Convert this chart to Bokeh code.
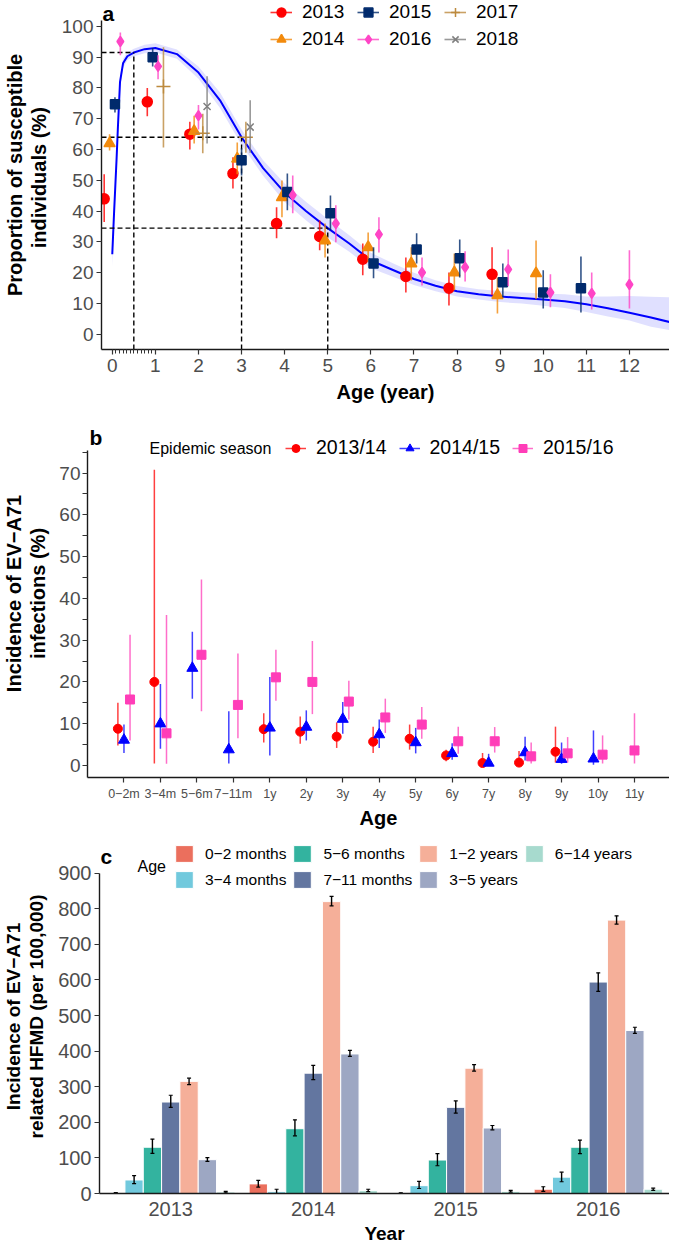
from collections import defaultdict
from bokeh.plotting import figure
from bokeh.models import Range1d, FixedTicker, Legend, LegendItem, Label
from bokeh.embed import file_html
from bokeh.resources import INLINE

FONT = "Liberation Sans"

# ---------------- Panel a data ----------------
a_years = ["2013", "2014", "2015", "2016", "2017", "2018"]
age_2013 = [0, 1, 2, 3, 4, 5, 6, 7, 8, 9]
prop_2013 = [44.0, 75.5, 65.0, 52.2, 36.0, 31.8, 24.4, 18.8, 15.0, 19.5]
lo_2013 = [36.5, 70.8, 60.0, 47.4, 31.2, 27.3, 19.2, 13.6, 9.4, 12.7]
hi_2013 = [52.0, 80.0, 69.0, 57.5, 41.3, 37.0, 29.5, 25.0, 20.1, 28.3]

age_2014 = [0, 2, 3, 4, 5, 6, 7, 8, 9, 10]
prop_2014 = [62.0, 66.0, 57.0, 44.5, 30.5, 28.3, 23.0, 20.1, 12.7, 19.8]
lo_2014 = [59.7, 62.0, 52.0, 38.0, 25.0, 23.4, 17.5, 14.3, 6.8, 11.4]
hi_2014 = [65.0, 71.0, 62.3, 50.0, 36.0, 33.1, 28.3, 26.3, 18.5, 30.5]

age_2015 = [0, 1, 3, 4, 5, 6, 7, 8, 9, 10, 11]
prop_2015 = [74.7, 90.0, 56.5, 46.2, 39.3, 23.0, 27.6, 24.7, 16.9, 13.6, 15.0]
lo_2015 = [72.0, 87.0, 51.6, 40.3, 33.8, 18.2, 23.0, 18.5, 12.0, 8.4, 7.1]
hi_2015 = [77.0, 93.0, 60.4, 52.2, 45.1, 28.3, 32.8, 30.8, 23.0, 20.8, 25.3]

age_2016 = [0, 1, 2, 4, 5, 6, 7, 8, 9, 10, 11, 12]
prop_2016 = [95.1, 87.0, 71.0, 45.2, 36.0, 32.5, 20.1, 21.8, 21.1, 13.6, 13.3, 16.2]
lo_2016 = [90.6, 82.8, 66.5, 39.3, 29.9, 26.6, 15.9, 17.2, 15.6, 8.8, 8.1, 8.4]
hi_2016 = [98.0, 90.6, 74.5, 51.6, 41.9, 38.0, 25.0, 27.0, 27.6, 19.5, 20.1, 27.3]

age_2017 = [1, 2, 3]
prop_2017 = [80.5, 65.3, 64.0]
lo_2017 = [60.7, 58.8, 59.0]
hi_2017 = [93.2, 71.6, 69.0]

age_2018 = [2, 3]
prop_2018 = [74.0, 67.3]
lo_2018 = [62.0, 59.0]
hi_2018 = [83.8, 76.0]

fit_age = [0.0, 0.04, 0.07, 0.1, 0.13, 0.18, 0.25, 0.35, 0.5, 0.75, 1.0, 1.5, 2.0, 2.5,
           3.0, 3.5, 4.0, 4.5, 5.0, 5.5, 6.0, 6.5, 7.0, 7.5, 8.0, 8.5, 9.0, 9.5, 10.0,
           10.5, 11.0, 11.5, 12.0, 12.5, 13.0]
fit_val = [26.0, 39.0, 48.0, 57.0, 67.0, 82.0, 88.0, 90.3, 91.5, 92.6, 93.0, 91.0, 85.0, 76.0,
           64.0, 54.0, 46.0, 40.0, 34.5, 29.5, 24.0, 21.0, 18.0, 15.8, 14.0, 13.0, 12.3, 11.8, 11.3,
           10.8, 9.8, 8.5, 7.0, 5.5, 3.8]
fit_lo = [22.0, 36.0, 45.0, 54.0, 64.0, 80.0, 86.5, 89.0, 90.3, 91.3, 91.5, 89.5, 83.0, 73.5,
          61.5, 51.5, 43.0, 37.0, 31.5, 26.8, 21.5, 18.8, 16.0, 14.0, 12.3, 11.3, 10.5, 10.0, 9.3,
          8.6, 7.3, 5.8, 4.5, 2.5, 1.2]
fit_hi = [30.0, 42.0, 51.0, 60.0, 70.0, 84.0, 89.5, 91.6, 92.7, 94.0, 94.5, 92.5, 87.0, 78.5,
          66.5, 56.5, 49.0, 43.0, 37.5, 32.2, 26.5, 23.2, 20.0, 17.6, 15.7, 14.7, 14.1, 13.6, 13.3,
          13.0, 12.3, 12.3, 12.5, 12.2, 12.0]

ref_age = [0.5, 3.0, 5.0]
ref_prop = [91.5, 64.0, 34.5]

# ---------------- Panel b data ----------------
b_cats = ["0−2m", "3−4m", "5−6m", "7−11m", "1y", "2y", "3y", "4y", "5y", "6y", "7y", "8y", "9y", "10y", "11y"]
b_seasons = ["2013/14", "2014/15", "2015/16"]
cat_1314 = [0, 1, 4, 5, 6, 7, 8, 9, 10, 11, 12]
inc_1314 = [8.8, 20.0, 8.7, 8.1, 6.9, 5.7, 6.4, 2.4, 0.6, 0.7, 3.3]
lo_1314 = [4.8, 0.5, 5.5, 5.2, 4.2, 3.0, 3.8, 1.0, 0.1, 0.2, 0.7]
hi_1314 = [15.0, 70.8, 12.5, 11.7, 10.3, 9.3, 9.8, 3.8, 3.0, 3.5, 9.3]

cat_1415 = [0, 1, 2, 3, 4, 5, 6, 7, 8, 9, 10, 11, 12, 13]
inc_1415 = [6.1, 10.0, 23.3, 3.8, 9.0, 9.2, 11.1, 7.4, 5.5, 2.9, 0.6, 3.1, 1.5, 1.6]
lo_1415 = [3.0, 4.0, 16.0, 0.5, 2.4, 6.0, 7.6, 4.2, 2.9, 1.4, 0.1, 1.2, 0.4, 0.2]
hi_1415 = [9.8, 19.5, 32.0, 13.0, 21.2, 13.2, 15.2, 11.0, 9.0, 5.3, 2.8, 6.9, 5.5, 8.4]

cat_1516 = [0, 1, 2, 3, 4, 5, 6, 7, 8, 9, 10, 11, 12, 13, 14]
inc_1516 = [15.8, 7.7, 26.5, 14.5, 21.1, 20.0, 15.3, 11.5, 9.8, 5.8, 5.8, 2.2, 2.9, 2.6, 3.6]
lo_1516 = [6.0, 0.4, 13.0, 6.5, 15.5, 12.3, 11.0, 7.8, 6.4, 2.8, 3.1, 0.5, 0.7, 0.5, 0.5]
hi_1516 = [31.3, 36.0, 44.5, 26.8, 27.7, 29.8, 20.3, 16.0, 14.0, 9.3, 9.2, 5.5, 6.8, 7.2, 12.5]

# ---------------- Panel c data ----------------
c_years = ["2013", "2014", "2015", "2016"]
c_groups = ["0−2 months", "3−4 months", "5−6 months", "7−11 months", "1−2 years", "3−5 years", "6−14 years"]
hfmd_0_2m = [1.5, 27.0, 1.0, 12.0]
hfmd_0_2m_lo = [0.5, 18.0, 0.3, 6.0]
hfmd_0_2m_hi = [2.5, 37.0, 2.0, 19.0]
hfmd_3_4m = [38.0, 5.0, 22.0, 46.0]
hfmd_3_4m_lo = [28.0, 0.0, 14.0, 33.0]
hfmd_3_4m_hi = [50.0, 12.0, 34.0, 60.0]
hfmd_5_6m = [130.0, 182.0, 94.0, 130.0]
hfmd_5_6m_lo = [113.0, 162.0, 78.0, 112.0]
hfmd_5_6m_hi = [153.0, 207.0, 112.0, 150.0]
hfmd_7_11m = [257.0, 338.0, 242.0, 594.0]
hfmd_7_11m_lo = [242.0, 320.0, 226.0, 568.0]
hfmd_7_11m_hi = [276.0, 360.0, 260.0, 620.0]
hfmd_1_2y = [315.0, 820.0, 352.0, 768.0]
hfmd_1_2y_lo = [306.0, 808.0, 344.0, 757.0]
hfmd_1_2y_hi = [324.0, 835.0, 362.0, 780.0]
hfmd_3_5y = [95.0, 392.0, 184.0, 458.0]
hfmd_3_5y_lo = [90.0, 385.0, 179.0, 450.0]
hfmd_3_5y_hi = [101.0, 402.0, 191.0, 467.0]
hfmd_6_14y = [4.0, 8.0, 6.0, 12.0]
hfmd_6_14y_lo = [2.0, 5.0, 4.0, 9.0]
hfmd_6_14y_hi = [6.0, 12.0, 9.0, 15.0]


def dodge(groups_per_series, width):
    members = defaultdict(list)
    for si, gs in enumerate(groups_per_series):
        for g in gs:
            members[g].append(si)
    out = []
    for si, gs in enumerate(groups_per_series):
        xs = []
        for g in gs:
            m = members[g]
            n = len(m)
            i = m.index(si)
            xs.append(g + (i - (n - 1) / 2) * width / n)
        out.append(xs)
    return out


def style_axes(p, tick_size, title_size):
    for ax in (p.xaxis, p.yaxis):
        ax.axis_line_color = "#1a1a1a"
        ax.axis_line_width = 1.4
        ax.major_tick_line_color = "#333333"
        ax.major_tick_line_width = 1.2
        ax.major_tick_out = 5
        ax.major_tick_in = 0
        ax.minor_tick_line_color = "#333333"
        ax.minor_tick_line_width = 1.0
        ax.minor_tick_out = 4
        ax.minor_tick_in = 0
        ax.major_label_text_color = "#4D4D4D"
        ax.major_label_text_font = FONT
        ax.major_label_text_font_size = tick_size
        ax.major_label_standoff = 4
        ax.axis_label_text_font = FONT
        ax.axis_label_text_font_style = "bold"
        ax.axis_label_text_font_size = title_size
        ax.axis_label_text_color = "black"
        ax.axis_label_text_line_height = 1.1
    p.yaxis.major_label_standoff = 3
    p.xgrid.visible = False
    p.ygrid.visible = False
    p.outline_line_color = None


def panel_label(p, txt, x, y):
    p.add_layout(Label(x=x, y=y, x_units="screen", y_units="screen", text=txt,
                       text_font=FONT, text_font_style="bold", text_font_size="21px",
                       text_baseline="alphabetic", text_color="black"))


# ================= Panel a =================
pa = figure(width=669, height=409, x_range=Range1d(-0.25, 12.93), y_range=Range1d(-4.9, 108.4),
            output_backend="svg", toolbar_location=None,
            min_border_left=94, min_border_right=0, min_border_top=0, min_border_bottom=60)
style_axes(pa, "19px", "20px")
pa.xaxis.ticker = FixedTicker(ticks=list(range(0, 13)), minor_ticks=[i / 12 for i in range(1, 12)])
pa.yaxis.ticker = FixedTicker(ticks=list(range(0, 101, 10)), minor_ticks=[])
pa.yaxis.bounds = (-4.9, 102)
pa.xaxis.axis_label = "Age (year)"
pa.yaxis.axis_label = "Proportion of susceptible\nindividuals  (%)"
pa.yaxis.axis_label_standoff = 9
pa.xaxis.axis_label_standoff = 6

pa.varea(x=fit_age, y1=fit_lo, y2=fit_hi, fill_color="#0000FF", fill_alpha=0.12)
pa.line(x=fit_age, y=fit_val, line_color="#0000FF", line_width=2)

x0 = pa.x_range.start
y0 = pa.y_range.start
pa.segment(x0=[x0] * len(ref_age), y0=ref_prop, x1=ref_age, y1=ref_prop,
           line_color="black", line_width=1.4, line_dash="5 3")
pa.segment(x0=ref_age, y0=[y0] * len(ref_age), x1=ref_age, y1=ref_prop,
           line_color="black", line_width=1.4, line_dash="5 3")

a_ages = [age_2013, age_2014, age_2015, age_2016, age_2017, age_2018]
a_props = [prop_2013, prop_2014, prop_2015, prop_2016, prop_2017, prop_2018]
a_los = [lo_2013, lo_2014, lo_2015, lo_2016, lo_2017, lo_2018]
a_his = [hi_2013, hi_2014, hi_2015, hi_2016, hi_2017, hi_2018]
a_colors = ["#FF0000", "#F28A0C", "#002A6C", "#FF45C6", "#BD8A3E", "#7F7F7F"]
a_markers = ["circle", "triangle", "square", "diamond", "cross", "x"]
a_sizes = [10, 11, 9, 10, 14, 10]
a_xs = dodge(a_ages, 0.5)
a_items = []
for k, yr in enumerate(a_years):
    seg = pa.segment(x0=a_xs[k], y0=a_los[k], x1=a_xs[k], y1=a_his[k],
                     line_color=a_colors[k], line_width=1.6, line_alpha=0.8)
    sc = pa.scatter(x=a_xs[k], y=a_props[k], marker=a_markers[k], size=a_sizes[k],
                    fill_color=a_colors[k], line_color=a_colors[k], line_width=1.5)
    a_items.append(LegendItem(label=yr, renderers=[seg, sc]))

leg_a = Legend(items=a_items, location=(169, 299), orientation="vertical", nrows=2,
               glyph_width=22, glyph_height=22, label_height=22, label_width=50,
               label_standoff=10, spacing=5, padding=0, margin=0,
               border_line_color=None, background_fill_alpha=0,
               label_text_font=FONT, label_text_font_size="19px", label_text_color="black")
pa.add_layout(leg_a)
panel_label(pa, "a", 1, 336)

# ================= Panel b =================
pb = figure(width=669, height=430, x_range=Range1d(-1.0, 14.96), y_range=Range1d(-2.87, 85.2),
            output_backend="svg", toolbar_location=None,
            min_border_left=81, min_border_right=0, min_border_top=0, min_border_bottom=62)
style_axes(pb, "19px", "20px")
pb.xaxis.major_label_text_font_size = "12.5px"
pb.xaxis.ticker = FixedTicker(ticks=list(range(len(b_cats))), minor_ticks=[])
pb.xaxis.major_label_overrides = {i: c for i, c in enumerate(b_cats)}
pb.yaxis.ticker = FixedTicker(ticks=list(range(0, 71, 10)), minor_ticks=list(range(5, 76, 10)))
pb.yaxis.bounds = (-2.87, 75.4)
pb.yaxis.minor_tick_out = 5
pb.yaxis.major_label_standoff = 2
pb.xaxis.axis_label = "Age"
pb.yaxis.axis_label = "Incidence of EV−A71\ninfections (%)"
pb.yaxis.axis_label_standoff = 7
pb.xaxis.axis_label_standoff = 3

b_cat_lists = [cat_1314, cat_1415, cat_1516]
b_incs = [inc_1314, inc_1415, inc_1516]
b_los = [lo_1314, lo_1415, lo_1516]
b_his = [hi_1314, hi_1415, hi_1516]
b_colors = ["#FF0000", "#0000FF", "#FF3DB8"]
b_markers = ["circle", "triangle", "square"]
b_sizes = [9, 11, 9]
b_xs = dodge(b_cat_lists, 0.5)
b_items = []
for k, s in enumerate(b_seasons):
    seg = pb.segment(x0=b_xs[k], y0=b_los[k], x1=b_xs[k], y1=b_his[k],
                     line_color=b_colors[k], line_width=1.5, line_alpha=0.75)
    sc = pb.scatter(x=b_xs[k], y=b_incs[k], marker=b_markers[k], size=b_sizes[k],
                    fill_color=b_colors[k], line_color=b_colors[k])
    b_items.append(LegendItem(label=s, renderers=[seg, sc]))

leg_b = Legend(items=b_items, location=(198, 318), orientation="horizontal",
               glyph_width=21, glyph_height=20, label_standoff=10, spacing=12,
               padding=0, margin=0, border_line_color=None, background_fill_alpha=0,
               label_text_font=FONT, label_text_font_size="19.5px", label_text_color="black")
pb.add_layout(leg_b)
pb.add_layout(Label(x=62, y=329, x_units="screen", y_units="screen", text="Epidemic season",
                    text_font=FONT, text_font_size="16px", text_baseline="middle", text_color="black"))
panel_label(pb, "b", 2, 340)

# ================= Panel c =================
pc = figure(width=669, height=407, x_range=Range1d(-0.5, 3.5), y_range=Range1d(0, 994.5),
            output_backend="svg", toolbar_location=None,
            min_border_left=94, min_border_right=0, min_border_top=0, min_border_bottom=49)
style_axes(pc, "20px", "19px")
pc.xaxis.ticker = FixedTicker(ticks=list(range(len(c_years))), minor_ticks=[])
pc.xaxis.major_label_overrides = {i: y for i, y in enumerate(c_years)}
pc.xaxis.major_tick_out = 0
pc.xaxis.major_label_standoff = 8
pc.yaxis.ticker = FixedTicker(ticks=list(range(0, 901, 100)), minor_ticks=[])
pc.yaxis.bounds = (0, 900)
pc.xaxis.axis_label = "Year"
pc.yaxis.axis_label = "Incidence of EV−A71\nrelated HFMD (per 100,000)"
pc.yaxis.axis_label_standoff = 8
pc.xaxis.axis_label_standoff = 4

c_vals = [hfmd_0_2m, hfmd_3_4m, hfmd_5_6m, hfmd_7_11m, hfmd_1_2y, hfmd_3_5y, hfmd_6_14y]
c_los = [hfmd_0_2m_lo, hfmd_3_4m_lo, hfmd_5_6m_lo, hfmd_7_11m_lo, hfmd_1_2y_lo, hfmd_3_5y_lo, hfmd_6_14y_lo]
c_his = [hfmd_0_2m_hi, hfmd_3_4m_hi, hfmd_5_6m_hi, hfmd_7_11m_hi, hfmd_1_2y_hi, hfmd_3_5y_hi, hfmd_6_14y_hi]
c_colors = ["#E64B35", "#4DBBD5", "#00A087", "#3C5488", "#F39B7F", "#8491B4", "#91D1C2"]
c_xs = dodge([list(range(len(c_years)))] * len(c_groups), 0.9)
bw = 0.9 / len(c_groups)
cap = 0.014
c_items = []
for k, g in enumerate(c_groups):
    r = pc.vbar(x=c_xs[k], top=c_vals[k], bottom=0, width=bw, fill_color=c_colors[k],
                fill_alpha=0.8, line_color="white", line_width=1)
    c_items.append(LegendItem(label=g, renderers=[r]))
for k, g in enumerate(c_groups):
    xs = c_xs[k]
    pc.segment(x0=xs, y0=c_los[k], x1=xs, y1=c_his[k], line_color="black", line_width=1.4)
    pc.segment(x0=[x - cap for x in xs], y0=c_los[k], x1=[x + cap for x in xs], y1=c_los[k],
               line_color="black", line_width=1.2)
    pc.segment(x0=[x - cap for x in xs], y0=c_his[k], x1=[x + cap for x in xs], y1=c_his[k],
               line_color="black", line_width=1.2)

leg_c = Legend(items=c_items, location=(74, 303), orientation="vertical", nrows=2,
               glyph_width=22, glyph_height=21, label_height=21, label_standoff=10, spacing=5,
               padding=0, margin=0, border_line_color=None, background_fill_alpha=0,
               label_text_font=FONT, label_text_font_size="15.5px", label_text_color="black")
pc.add_layout(leg_c)
pc.add_layout(Label(x=38, y=327, x_units="screen", y_units="screen", text="Age",
                    text_font=FONT, text_font_size="16px", text_baseline="middle", text_color="black"))
panel_label(pc, "c", 1, 337)

# three independent roots, stacked by the page flow (no frame alignment between panels)
open("out.html", "w").write(file_html([pa, pb, pc], INLINE))
